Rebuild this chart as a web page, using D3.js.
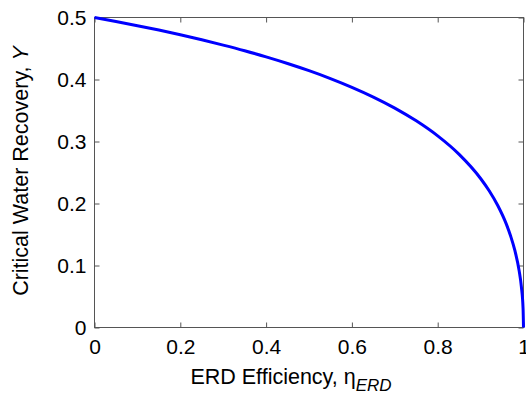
<!DOCTYPE html>
<html>
<head>
<meta charset="utf-8">
<script src="https://cdn.jsdelivr.net/npm/d3@7"></script>
<style>
  html, body { margin: 0; padding: 0; background: #fff; }
  svg { display: block; font-family: "Liberation Sans", Arial, Helvetica, sans-serif; }
</style>
</head>
<body>
<svg id="chart" width="526" height="395"></svg>
<script>
// ERD efficiency (x) and critical water recovery (y)
const etaValues = [0, 0.05, 0.1, 0.15, 0.2, 0.25, 0.3, 0.35, 0.4, 0.45, 0.5, 0.55, 0.6, 0.65,
  0.7, 0.75, 0.8, 0.85, 0.9, 0.92, 0.94, 0.96, 0.97, 0.98, 0.99, 0.995, 0.999, 1.0];
const recoveryValues = [0.5, 0.4936, 0.4868, 0.4797, 0.4721, 0.4641, 0.4555, 0.4464, 0.4365,
  0.4258, 0.4142, 0.4015, 0.3874, 0.3717, 0.3539, 0.3333, 0.3090, 0.2792, 0.2403, 0.2205,
  0.1967, 0.1667, 0.1476, 0.1239, 0.0909, 0.0660, 0.0306, 0];
const xTicks = [0, 0.2, 0.4, 0.6, 0.8, 1];
const yTicks = [0, 0.1, 0.2, 0.3, 0.4, 0.5];
const xTickLabels = ["0", "0.2", "0.4", "0.6", "0.8", "1"];
const yTickLabels = ["0", "0.1", "0.2", "0.3", "0.4", "0.5"];

const svg = d3.select("#chart");
const plotLeft = 94.5, plotRight = 523.5, plotTop = 17.5, plotBottom = 327.5;

const x = d3.scaleLinear().domain([0, 1]).range([plotLeft, plotRight]);
const y = d3.scaleLinear().domain([0, 0.5]).range([plotBottom, plotTop]);

const axisColor = "#555";
const tickLen = 5;
const tickFont = 21;
const titleFont = 21.5;

// frame
svg.append("rect")
  .attr("x", plotLeft).attr("y", plotTop)
  .attr("width", plotRight - plotLeft).attr("height", plotBottom - plotTop)
  .attr("fill", "none").attr("stroke", axisColor).attr("stroke-width", 1);

// axes with inward ticks
const fmtX = (d, i) => xTickLabels[i];
const fmtY = (d, i) => yTickLabels[i];

const gx = svg.append("g").attr("transform", `translate(0,${plotBottom})`)
  .call(d3.axisBottom(x).tickValues(xTicks).tickFormat(fmtX).tickSizeInner(-tickLen).tickSizeOuter(0).tickPadding(12));
const gxTop = svg.append("g").attr("transform", `translate(0,${plotTop})`)
  .call(d3.axisTop(x).tickValues(xTicks).tickFormat("").tickSizeInner(-tickLen).tickSizeOuter(0));
const gy = svg.append("g").attr("transform", `translate(${plotLeft},0)`)
  .call(d3.axisLeft(y).tickValues(yTicks).tickFormat(fmtY).tickSizeInner(-tickLen).tickSizeOuter(0).tickPadding(8));
const gyRight = svg.append("g").attr("transform", `translate(${plotRight},0)`)
  .call(d3.axisRight(y).tickValues(yTicks).tickFormat("").tickSizeInner(-tickLen).tickSizeOuter(0));

[gx, gxTop, gy, gyRight].forEach(g => {
  g.select(".domain").remove();
  g.selectAll(".tick line").attr("stroke", axisColor);
  g.selectAll("text")
    .attr("fill", "#000")
    .style("font-size", tickFont + "px")
    .style("font-family", "'Liberation Sans', Arial, sans-serif");
});

// curve
const points = etaValues.map((e, i) => [e, recoveryValues[i]]);
svg.append("path")
  .datum(points)
  .attr("fill", "none")
  .attr("stroke", "#0000ff")
  .attr("stroke-width", 3)
  .attr("stroke-linejoin", "round")
  .attr("d", d3.line().x(d => x(d[0])).y(d => y(d[1])).curve(d3.curveMonotoneX));

// x-axis title
const xt = svg.append("text")
  .attr("x", 291).attr("y", 384)
  .attr("text-anchor", "middle")
  .style("font-size", titleFont + "px");
xt.append("tspan").text("ERD Efficiency, \u03b7");
xt.append("tspan").attr("dy", 7).style("font-style", "italic").style("font-size", "17px").text("ERD");

// y-axis title
const yt = svg.append("text")
  .attr("transform", `translate(28,171) rotate(-90)`)
  .attr("text-anchor", "middle")
  .style("font-size", titleFont + "px");
yt.append("tspan").text("Critical Water Recovery, ");
yt.append("tspan").style("font-style", "italic").text("Y");
</script>
</body>
</html>
